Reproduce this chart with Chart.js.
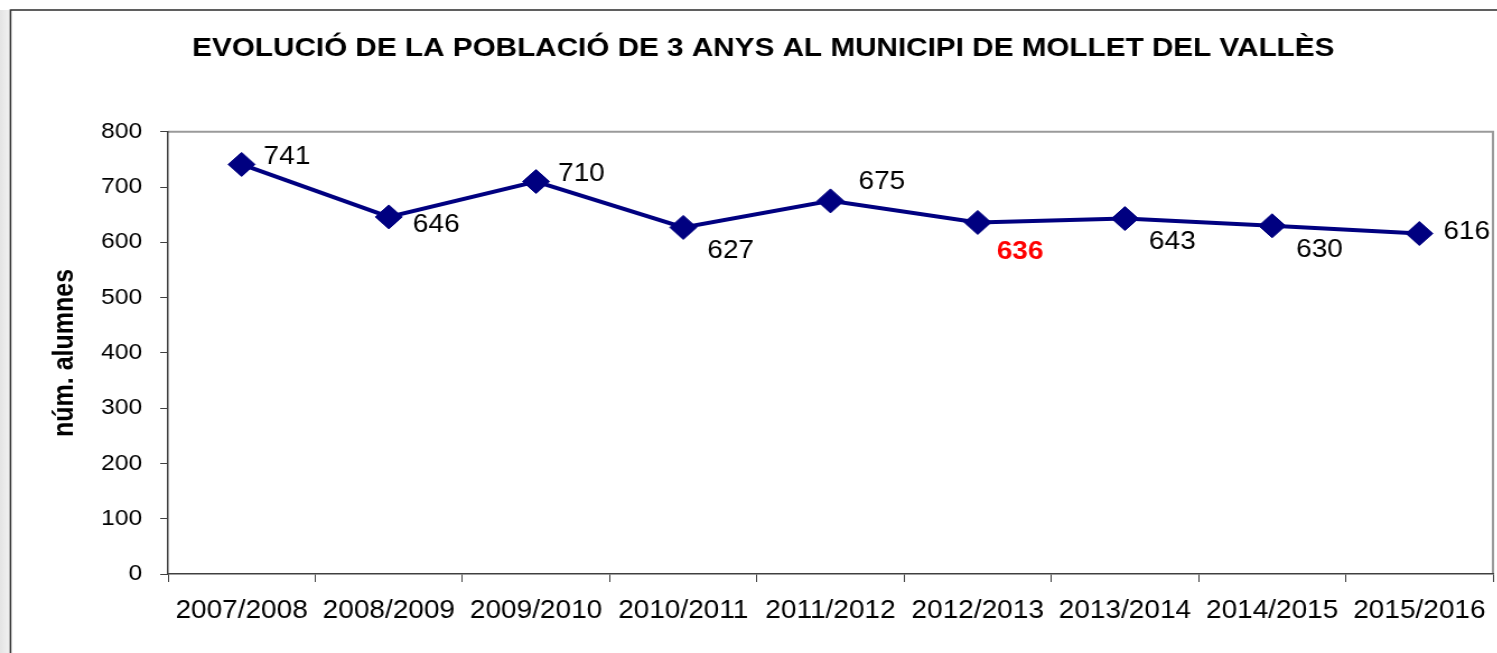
<!DOCTYPE html>
<html>
<head>
<meta charset="utf-8">
<script src="https://cdn.jsdelivr.net/npm/chart.js@4.4.0/dist/chart.umd.min.js"></script>
<style>
  html, body { margin: 0; padding: 0; background: #fff; overflow: hidden; }
  /* the original picture is a bit stretched sideways, so the whole chart is too */
  #wrap { position: relative; width: 1337px; height: 653px; transform: scaleX(1.12); transform-origin: 0 0; }
</style>
</head>
<body>
<div id="wrap"><canvas id="chart"></canvas></div>
<script>
// data
const seasons = ['2007/2008', '2008/2009', '2009/2010', '2010/2011', '2011/2012',
                 '2012/2013', '2013/2014', '2014/2015', '2015/2016'];
const alumnes = [741, 646, 710, 627, 675, 636, 643, 630, 616];
const labelPlacement = ['above', 'lowRight', 'above', 'below', 'highAbove', 'farBelow', 'below', 'below', 'right'];
const highlighted = ['2012/2013'];
const yMin = 0, yMax = 800, yStep = 100;

const SX = 1.12;
const FONT = "'Liberation Sans', Arial, sans-serif";
const placementOffset = {
  above:     { dx: 22, dy: -7 },
  highAbove: { dx: 28, dy: -19 },
  lowRight:  { dx: 24, dy: 8 },
  below:     { dx: 24, dy: 24 },
  farBelow:  { dx: 19, dy: 30 },
  right:     { dx: 24, dy: -1 }
};

Chart.defaults.font.family = FONT;
Chart.defaults.color = '#000';

// white page, grey strip and the outer frame, plus the plot box top/right
const frame = {
  id: 'frame',
  beforeDraw(chart) {
    const { ctx, width, height } = chart;
    const a = chart.chartArea;
    ctx.save();
    ctx.fillStyle = '#fff';
    ctx.fillRect(0, 0, width, height);
    const g = ctx.createLinearGradient(0, 0, 9.4, 0);
    g.addColorStop(0, '#e4e4e4');
    g.addColorStop(1, '#f3f3f3');
    ctx.fillStyle = g;
    ctx.fillRect(0, 10, 9.4, height);
    ctx.strokeStyle = '#2b2b2b';
    ctx.lineWidth = 1.5;
    ctx.beginPath();
    ctx.moveTo(9.4, height + 5);
    ctx.lineTo(9.4, 10);
    ctx.lineTo(width + 5, 10);
    ctx.stroke();
    ctx.strokeStyle = '#9a9a9a';
    ctx.lineWidth = 2;
    ctx.beginPath();
    ctx.moveTo(a.left, a.top);
    ctx.lineTo(a.right, a.top);
    ctx.lineTo(a.right, a.bottom);
    ctx.stroke();
    ctx.restore();
  }
};

// value labels next to each point
const valueLabels = {
  id: 'valueLabels',
  afterDatasetsDraw(chart) {
    const ctx = chart.ctx;
    const meta = chart.getDatasetMeta(0);
    ctx.save();
    ctx.textAlign = 'left';
    ctx.textBaseline = 'middle';
    meta.data.forEach((pt, i) => {
      const off = placementOffset[labelPlacement[i]];
      const hot = highlighted.includes(seasons[i]);
      ctx.font = (hot ? 'bold ' : '') + '25px ' + FONT;
      ctx.fillStyle = hot ? '#ff0000' : '#000';
      ctx.fillText(String(alumnes[i]), pt.x + off.dx / SX, pt.y + off.dy);
    });
    ctx.restore();
  }
};

new Chart(document.getElementById('chart').getContext('2d'), {
  type: 'line',
  data: {
    labels: seasons,
    datasets: [{
      label: 'núm. alumnes',
      data: alumnes,
      borderColor: '#000080',
      backgroundColor: '#000080',
      borderWidth: 4,
      pointStyle: 'rectRot',
      pointRadius: 12,
      pointBackgroundColor: '#000080',
      pointBorderColor: '#000080',
      pointBorderWidth: 1,
      tension: 0,
      fill: false,
      clip: false
    }]
  },
  options: {
    responsive: true,
    maintainAspectRatio: false,
    animation: false,
    layout: { autoPadding: false, padding: { left: 30, right: 4, top: 0, bottom: 0 } },
    plugins: {
      legend: { display: false },
      tooltip: { enabled: false },
      title: {
        display: true,
        text: 'EVOLUCIÓ DE LA POBLACIÓ DE 3 ANYS AL MUNICIPI DE MOLLET DEL VALLÈS',
        color: '#000',
        font: { size: 26.5, weight: 'bold' },
        padding: { top: 33, bottom: 67 }
      }
    },
    scales: {
      x: {
        type: 'category',
        offset: true,
        grid: { offset: true, drawOnChartArea: false, drawTicks: true, tickLength: 8, tickColor: '#404040', lineWidth: 1 },
        border: { display: true, color: '#404040', width: 1.5 },
        ticks: { font: { size: 25 }, color: '#000', padding: 14, maxRotation: 0, autoSkip: false },
        afterFit(s) { s.height = 79; s.paddingLeft = 0; s.paddingRight = 0; }
      },
      y: {
        min: yMin,
        max: yMax,
        grid: { drawOnChartArea: false, drawTicks: true, tickLength: 7, tickColor: '#404040', lineWidth: 1 },
        border: { display: true, color: '#404040', width: 1.5 },
        ticks: { stepSize: yStep, font: { size: 22 }, color: '#000', padding: 16 },
        title: {
          display: true,
          text: 'núm. alumnes',
          color: '#000',
          font: { size: 25, weight: 'bold' },
          padding: { top: 13, bottom: 0 }
        },
        afterFit(s) { s.width = 120; s.paddingTop = 0; s.paddingBottom = 0; }
      }
    }
  },
  plugins: [frame, valueLabels]
});
</script>
</body>
</html>
